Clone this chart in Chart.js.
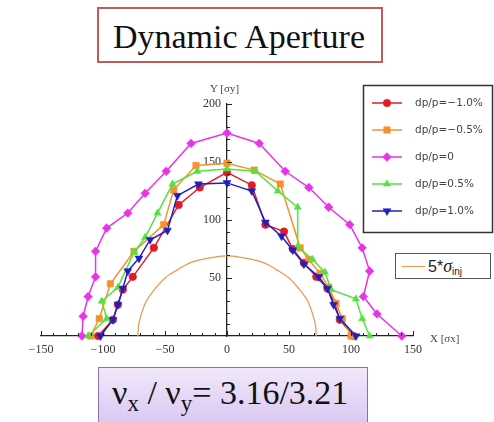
<!DOCTYPE html>
<html><head><meta charset="utf-8">
<script src="https://cdn.jsdelivr.net/npm/chart.js@4.4.1/dist/chart.umd.min.js"></script>
<style>
html,body{margin:0;padding:0;background:#fff;}
#wrap{position:relative;width:494px;height:422px;overflow:hidden;background:#fff;}
#c{position:absolute;left:0;top:0;}
.tbox{position:absolute;left:97px;top:7px;width:286px;height:56px;box-sizing:border-box;border:2.5px solid #c25a5a;background:#fff;}
.ttxt{position:absolute;left:97px;top:18px;width:284px;text-align:center;font:34px "Liberation Serif",serif;line-height:37px;color:#111;white-space:nowrap;}
.bbox{position:absolute;left:98px;top:367px;width:270px;height:60px;box-sizing:border-box;border:1.5px solid #8a72b2;background:linear-gradient(#f1e8fb,#d9c7f2);}
.btxt{position:absolute;left:112px;top:374px;font:34px "Liberation Serif",serif;line-height:38px;color:#111;white-space:nowrap;}
.btxt sub{font-size:23px;vertical-align:-7px;line-height:0;}
.sbox{position:absolute;left:395px;top:253px;width:96px;height:26px;box-sizing:border-box;border:1.5px solid #555;background:#fff;}
.sline{position:absolute;left:402px;top:266px;width:23px;height:0;border-top:1.2px solid rgb(235,150,80);}
.stxt{position:absolute;left:428px;top:256px;font:16px "Liberation Sans",sans-serif;line-height:20px;color:#222;white-space:nowrap;}
.stxt i{font-family:"Liberation Serif",serif;font-size:18px;}
.stxt sub{font-size:10px;vertical-align:-3px;line-height:0;}
.ax{position:absolute;font:11px "Liberation Serif",serif;color:#444;white-space:nowrap;line-height:12px;}
</style>
</head><body>
<div id="wrap">
<canvas id="c" width="494" height="422"></canvas>
<div class="tbox"></div>
<div class="ttxt">Dynamic Aperture</div>
<div class="bbox"></div>
<div class="btxt">ν<sub>x</sub> / ν<sub>y</sub>= 3.16/3.21</div>
<div class="sbox"></div>
<div class="sline"></div>
<div class="stxt">5*<i>σ</i><sub>inj</sub></div>
<div class="ax" style="left:210px;top:82px;">Y [σy]</div>
<div class="ax" style="left:430px;top:332px;">X [σx]</div>
</div>
<script>
// ---- data ----
const seriesNames = ['dp/p=\u22121.0%', 'dp/p=\u22120.5%', 'dp/p=0', 'dp/p=0.5%', 'dp/p=1.0%'];

const redX = [-104, -92, -88, -84, -76, -59, -39, -22, 0, 20, 31, 46, 53, 62, 72, 81, 87, 91, 102];
const redY = [0, 14, 27, 40, 51, 76, 113, 128, 141, 130, 96, 90, 75, 63, 51, 41, 28, 14, 0];

const orangeX = [-110, -103, -94, -75, -51, -43, -25, 0, 22, 43, 59, 66, 75, 82, 88, 93, 100];
const orangeY = [0, 15, 45, 73, 96, 126, 147, 149, 143, 131, 76, 66, 54, 42, 28, 15, 0];

const magentaX = [-117, -116, -112, -106, -106, -97, -80, -66, -49, -29, 0, 26, 47, 66, 82, 99, 109, 115, 110, 121, 141];
const magentaY = [0, 17, 34, 51, 73, 93, 106, 123, 142, 166, 175, 166, 142, 128, 111, 96, 76, 56, 34, 19, 0];

const greenX = [-112, -97, -101, -88, -75, -66, -56, -44, -24, 0, 23, 41, 57, 57, 69, 79, 84, 104, 109, 115];
const greenY = [0, 15, 30, 42, 72, 85, 106, 131, 142, 144, 142, 125, 111, 77, 66, 55, 40, 32, 15, 0];

const blueX = [-102, -92, -88, -84, -80, -71, -62, -48, -40, -23, 0, 20, 31, 44, 53, 62, 74, 81, 86, 91, 104];
const blueY = [0, 14, 27, 41, 56, 67, 83, 91, 121, 131, 132, 125, 98, 86, 74, 62, 51, 41, 27, 15, 0];

// 5*sigma_inj boundary
const injX = [-72, -71, -66, -60, -50, -40, -30, -20, -10, 0, 10, 20, 30, 40, 50, 60, 66, 71, 72];
const injY = [0, 11, 28, 38, 50, 57, 63, 66, 68, 69, 68, 66, 63, 57, 50, 38, 28, 11, 0];

const xTickLabels = ['\u2212150', '\u2212100', '\u221250', '0', '50', '100', '150'];
const yTickLabels = ['', '50', '100', '150', '200'];

// ---- build ----
function pts(xs, ys){ return xs.map((x,i)=>({x:x, y:ys[i]})); }

const colors = ['rgb(226,28,38)', 'rgb(246,146,46)', 'rgb(232,52,232)', 'rgb(84,226,62)', 'rgb(30,32,190)'];
const styles = [
  {pointStyle:'circle', radius:3.8, rotation:0},
  {pointStyle:'rect', radius:4.6, rotation:0},
  {pointStyle:'rectRot', radius:4.4, rotation:0},
  {pointStyle:'triangle', radius:4.2, rotation:0},
  {pointStyle:'triangle', radius:4.6, rotation:180}
];
const xs = [redX, orangeX, magentaX, greenX, blueX];
const ys = [redY, orangeY, magentaY, greenY, blueY];

const datasets = seriesNames.map((n,i)=>({
  label:n, data:pts(xs[i], ys[i]), showLine:true,
  borderColor:colors[i], backgroundColor:colors[i], borderWidth:1.5,
  pointStyle:styles[i].pointStyle, pointRadius:styles[i].radius, pointRotation:styles[i].rotation,
  pointBorderWidth:0.5, pointBorderColor:colors[i], pointBackgroundColor:colors[i],
  order:5-i, clip:false, tension:0
}));
datasets.push({
  label:'5*σinj', data:pts(injX, injY), showLine:true, borderColor:'rgb(235,150,80)',
  borderWidth:1.2, pointRadius:0, tension:0.35, order:6, clip:false, isInj:true
});

const tickPlugin = {
  id:'mmaTicks',
  afterDatasetsDraw(chart){
    const ctx = chart.ctx, sx = chart.scales.x, sy = chart.scales.y;
    const x0 = sx.getPixelForValue(0), y0 = sy.getPixelForValue(0);
    ctx.save();
    ctx.strokeStyle = '#222'; ctx.lineWidth = 1;
    ctx.beginPath();
    for (let v = -150; v <= 150; v += 10){
      const px = Math.round(sx.getPixelForValue(v)) + 0.5;
      const len = (v % 50 === 0) ? 5 : 3;
      ctx.moveTo(px, y0); ctx.lineTo(px, y0 - len);
    }
    for (let v = 10; v <= 200; v += 10){
      const py = Math.round(sy.getPixelForValue(v)) + 0.5;
      const len = (v % 50 === 0) ? 5 : 3;
      ctx.moveTo(x0, py); ctx.lineTo(x0 + len, py);
    }
    ctx.stroke();
    ctx.restore();
  }
};

const legendPlugin = {
  id:'boxLegend',
  afterDraw(chart){
    const ctx = chart.ctx;
    const H = Chart.helpers;
    ctx.save();
    ctx.fillStyle = '#fff';
    ctx.fillRect(363, 85, 130, 148);
    ctx.strokeStyle = '#333'; ctx.lineWidth = 1.5;
    ctx.strokeRect(363.5, 85.5, 129, 147);
    const rows = [103, 130, 157, 184, 211];
    ctx.font = '10.5px "DejaVu Sans", sans-serif';
    ctx.textBaseline = 'middle';
    chart.data.datasets.forEach((d, i) => {
      if (d.isInj) return;
      const y = rows[i];
      ctx.strokeStyle = d.borderColor; ctx.lineWidth = 1.5;
      ctx.beginPath(); ctx.moveTo(372, y); ctx.lineTo(402, y); ctx.stroke();
      ctx.fillStyle = d.backgroundColor; ctx.strokeStyle = d.borderColor; ctx.lineWidth = 0.5;
      H.drawPoint(ctx, {pointStyle:d.pointStyle, radius:d.pointRadius, rotation:d.pointRotation, borderWidth:0.5}, 387, y);
      ctx.fillStyle = '#444';
      ctx.fillText(d.label, 415, y + 0.5);
    });
    ctx.restore();
  }
};

new Chart(document.getElementById('c'), {
  type:'scatter',
  data:{datasets},
  options:{
    responsive:false, animation:false, devicePixelRatio:1,
    layout:{padding:{left:41, right:81, top:104, bottom:86}},
    plugins:{legend:{display:false}, tooltip:{enabled:false}, title:{display:false}},
    scales:{
      x:{type:'linear', min:-150, max:150, position:{y:0},
         grid:{display:false, drawTicks:false},
         border:{display:true, color:'#222', width:1.3},
         ticks:{stepSize:50, autoSkip:false, maxRotation:0, padding:7, color:'#333',
                font:{family:'"Liberation Serif", serif', size:12},
                callback:(v,i)=>xTickLabels[i]}},
      y:{type:'linear', min:0, max:200, position:{x:0},
         grid:{display:false, drawTicks:false},
         border:{display:true, color:'#222', width:1.3},
         ticks:{stepSize:50, autoSkip:false, color:'#333',
                font:{family:'"Liberation Serif", serif', size:12},
                callback:(v,i)=>yTickLabels[i] ? yTickLabels[i] + '\u2002' : ''}}
    }
  },
  plugins:[tickPlugin, legendPlugin]
});
</script>
</body></html>
